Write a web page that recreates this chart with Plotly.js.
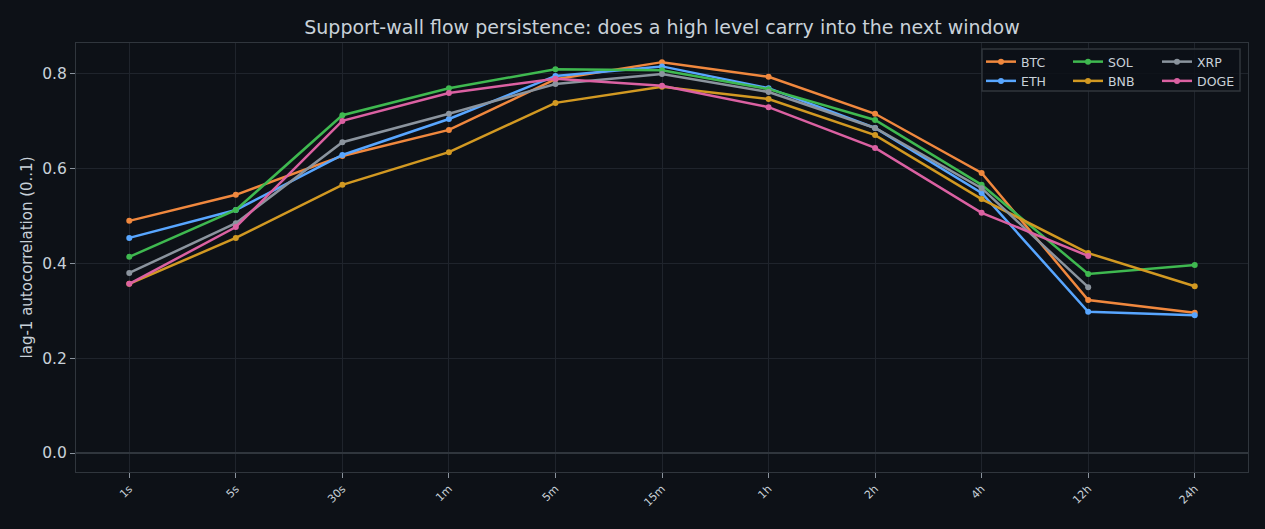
<!DOCTYPE html>
<html><head><meta charset="utf-8">
<script src="https://cdn.plot.ly/plotly-3.0.1.min.js"></script>
<style>html,body{margin:0;padding:0;background:#0d1117;}#chart{width:1265px;height:529px;}</style>
</head><body><div id="chart"></div>
<script>
const windows = ["1s","5s","30s","1m","5m","15m","1h","2h","4h","12h","24h"];
const BTC  = [0.490,0.545,0.627,0.682,0.789,0.825,0.794,0.716,0.591,0.323,0.296];
const ETH  = [0.454,0.513,0.629,0.705,0.796,0.816,0.770,0.686,0.549,0.298,0.291];
const SOL  = [0.414,0.513,0.713,0.770,0.810,0.808,0.768,0.703,0.566,0.378,0.397];
const BNB  = [0.357,0.454,0.566,0.635,0.739,0.773,0.747,0.671,0.536,0.422,0.352];
const XRP  = [0.380,0.485,0.656,0.716,0.779,0.800,0.762,0.686,0.559,0.350,null];
const DOGE = [0.357,0.477,0.701,0.760,0.790,0.775,0.730,0.644,0.507,0.416,null];
const names = ["BTC","ETH","SOL","BNB","XRP","DOGE"];
const series = [BTC,ETH,SOL,BNB,XRP,DOGE];
const colors = ["#f0883e","#58a6ff","#3fb950","#d29922","#8b949e","#db61a2"];
const legendOf = ["legend","legend","legend2","legend2","legend3","legend3"];

const traces = series.map((ys,i)=>({
  type:"scatter", mode:"lines+markers", name:names[i],
  x:windows.slice(0, ys.filter(v=>v!==null).length), y:ys.filter(v=>v!==null),
  line:{color:colors[i], width:2.5}, marker:{color:colors[i], size:6},
  legend:legendOf[i]
}));

const L=76, R=1248, T=43, B=472;
const px = v => (v-L)/(R-L);
const py = v => (B-v)/(B-T);
const legBase = {bgcolor:"rgba(0,0,0,0)", borderwidth:0, font:{color:"#c9d1d9", size:12.5, family:"DejaVu Sans, sans-serif"},
  xanchor:"left", yanchor:"top", tracegroupgap:0, itemwidth:30};

const layout = {
  width:1265, height:529,
  paper_bgcolor:"#0d1117", plot_bgcolor:"#0d1117",
  margin:{l:L, r:1265-R, t:T, b:529-B},
  font:{family:"DejaVu Sans, sans-serif", color:"#c9d1d9"},
  title:{text:"Support-wall flow persistence: does a high level carry into the next window",
    font:{size:19, color:"#c9d1d9"}, x:px(662), xanchor:"center", xref:"paper", y:1-27/529, yanchor:"middle"},
  xaxis:{type:"category", range:[-0.5,10.5], tickangle:-45, tickfont:{size:11, color:"#c9d1d9"},
    showgrid:true, gridcolor:"#1f242c", gridwidth:1, ticks:"outside", ticklen:5, tickcolor:"#8b949e",
    showline:true, linecolor:"#30363d", mirror:true, zeroline:false},
  yaxis:{range:[-0.0401,0.8654], tickvals:[0,0.2,0.4,0.6,0.8], ticktext:["0.0","0.2","0.4","0.6","0.8"],
    tickfont:{size:15.5, color:"#c9d1d9"},
    showgrid:true, gridcolor:"#1f242c", gridwidth:1, ticks:"outside", ticklen:5, tickcolor:"#8b949e",
    showline:true, linecolor:"#30363d", mirror:true, zeroline:true, zerolinecolor:"#30363d", zerolinewidth:1.5,
    title:{text:"lag-1 autocorrelation (0..1)", font:{size:15, color:"#c9d1d9"}, standoff:5}},
  legend: Object.assign({}, legBase, {x:px(981), y:py(47)}),
  legend2: Object.assign({}, legBase, {x:px(1068), y:py(47)}),
  legend3: Object.assign({}, legBase, {x:px(1157), y:py(47)}),
  shapes:[{type:"rect", xref:"paper", yref:"paper", x0:px(982), x1:px(1240), y0:py(91), y1:py(49),
    line:{color:"#30363d", width:1.5}, fillcolor:"rgba(13,17,23,0.85)", layer:"above"}],
  showlegend:true
};
Plotly.newPlot("chart", traces, layout, {displayModeBar:false, staticPlot:true});
</script></body></html>
